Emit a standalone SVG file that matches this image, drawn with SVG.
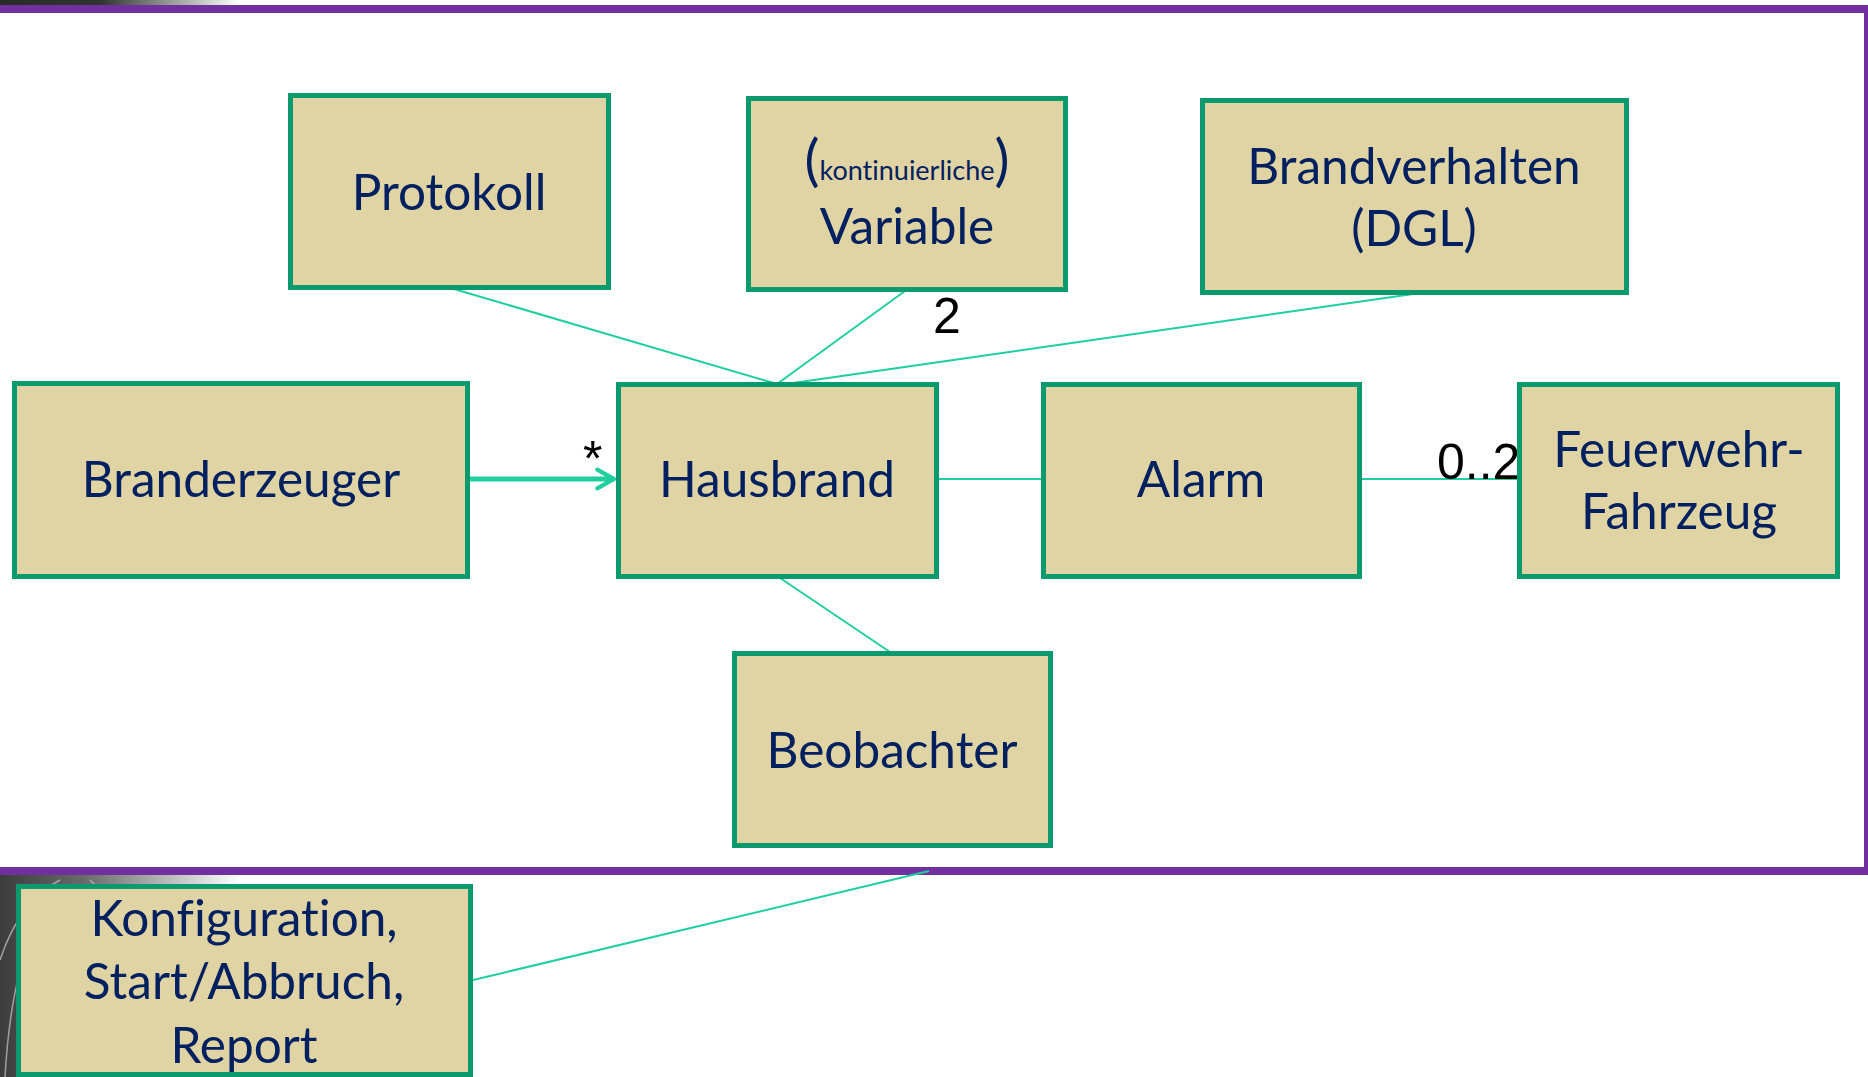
<svg xmlns="http://www.w3.org/2000/svg" width="1868" height="1077" viewBox="0 0 1868 1077">
  <defs>
    <style>
      .box { fill: #e1d4a4; stroke: #0a9a6e; stroke-width: 5; }
      .lbl { font-family: Lato, "Open Sans", sans-serif; font-size: 49.5px; fill: #002060; text-anchor: middle; font-variant-ligatures: none; }
      .small { font-size: 27px; }
      .paren { font-size: 56px; }
      .link { stroke: #1fcf9f; stroke-width: 2; fill: none; }
      .mult { font-family: "Liberation Sans", Arial, sans-serif; font-size: 50px; fill: #000; }
    </style>
    <linearGradient id="topFade" x1="0" y1="0" x2="1" y2="0">
      <stop offset="0" stop-color="#2a2a2a"/>
      <stop offset="0.42" stop-color="#333"/>
      <stop offset="1" stop-color="#fff"/>
    </linearGradient>
    <linearGradient id="cornerFade" x1="0" y1="0" x2="1" y2="0">
      <stop offset="0" stop-color="#3c3c3c"/>
      <stop offset="0.35" stop-color="#6a6a6a"/>
      <stop offset="1" stop-color="#fff"/>
    </linearGradient>
    <marker id="open" viewBox="0 0 12 12" refX="10" refY="6" markerWidth="5" markerHeight="5" markerUnits="strokeWidth" orient="auto">
      <path d="M2,1.5 L10,6 L2,10.5" fill="none" stroke="#1fcf9f" stroke-width="2" stroke-linecap="round" stroke-linejoin="round"/>
    </marker>
  </defs>

  <!-- page background and frame -->
  <rect x="0" y="0" width="1868" height="1077" fill="#fff"/>
  <rect x="0" y="0" width="240" height="5" fill="url(#topFade)"/>
  <rect x="0" y="875" width="240" height="202" fill="url(#cornerFade)"/>
  <g stroke="#c8c8c8" stroke-width="1.5" fill="none" opacity="0.7">
    <path d="M0,960 Q20,900 60,880"/>
    <path d="M5,1077 Q10,990 30,940"/>
    <path d="M90,880 L110,900"/>
  </g>
  <rect x="-4" y="9" width="1872" height="862" fill="none" stroke="#7030a0" stroke-width="8"/>

  <!-- connectors -->
  <g id="connectors">
    <line class="link" x1="454" y1="289" x2="777" y2="384"/>
    <line class="link" x1="905" y1="291" x2="777" y2="384"/>
    <line class="link" x1="1413" y1="294" x2="786" y2="384"/>
    <line class="link" x1="939" y1="479" x2="1041" y2="479"/>
    <line class="link" x1="1362" y1="479" x2="1517" y2="479"/>
    <line class="link" x1="780" y1="578" x2="890" y2="652"/>
    <line class="link" x1="473" y1="980" x2="929" y2="871"/>
    <line x1="470" y1="479" x2="614" y2="479" stroke="#1fcf9f" stroke-width="5" marker-end="url(#open)"/>
    <text class="mult" x="583" y="476" font-size="34">*</text>
    <text class="mult" x="933" y="333">2</text>
    <text class="mult" x="1437" y="479">0..2</text>
  </g>

  <!-- nodes -->
  <g id="protokoll">
    <rect class="box" x="290.5" y="95.5" width="318" height="192"/>
    <text class="lbl" x="449" y="210">Protokoll</text>
  </g>
  <g id="variable">
    <rect class="box" x="748.5" y="98.5" width="317" height="191"/>
    <text class="lbl" x="907" y="180"><tspan class="paren">(</tspan><tspan class="small">kontinuierliche</tspan><tspan class="paren">)</tspan></text>
    <text class="lbl" x="907" y="244">Variable</text>
  </g>
  <g id="brandverhalten">
    <rect class="box" x="1202.5" y="100.5" width="424" height="192"/>
    <text class="lbl" x="1414" y="184">Brandverhalten</text>
    <text class="lbl" x="1414" y="246">(DGL)</text>
  </g>
  <g id="branderzeuger">
    <rect class="box" x="14.5" y="383.5" width="453" height="193"/>
    <text class="lbl" x="241" y="497">Branderzeuger</text>
  </g>
  <g id="hausbrand">
    <rect class="box" x="618.5" y="384.5" width="318" height="192"/>
    <text class="lbl" x="777" y="497">Hausbrand</text>
  </g>
  <g id="alarm">
    <rect class="box" x="1043.5" y="384.5" width="316" height="192"/>
    <text class="lbl" x="1201" y="497">Alarm</text>
  </g>
  <g id="feuerwehr">
    <rect class="box" x="1519.5" y="384.5" width="318" height="192"/>
    <text class="lbl" x="1679" y="467">Feuerwehr-</text>
    <text class="lbl" x="1679" y="529">Fahrzeug</text>
  </g>
  <g id="beobachter">
    <rect class="box" x="734.5" y="653.5" width="316" height="192"/>
    <text class="lbl" x="892" y="768">Beobachter</text>
  </g>
  <g id="konfiguration">
    <rect class="box" x="18.5" y="886.5" width="452" height="188"/>
    <text class="lbl" x="244" y="936">Konfiguration,</text>
    <text class="lbl" x="244" y="999">Start/Abbruch,</text>
    <text class="lbl" x="244" y="1063">Report</text>
  </g>
</svg>
